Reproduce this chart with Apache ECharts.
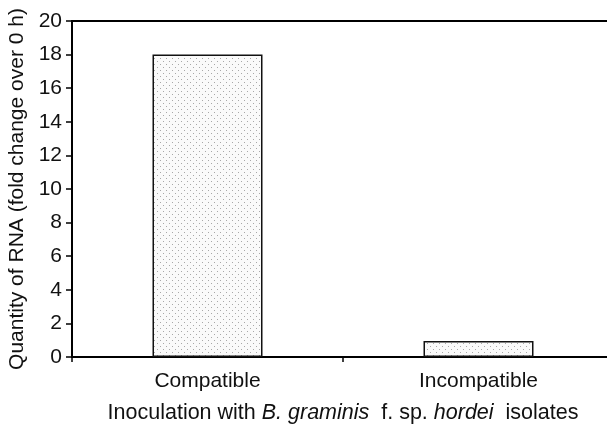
<!DOCTYPE html>
<html><head><meta charset="utf-8">
<script src="https://cdn.jsdelivr.net/npm/echarts@6/dist/echarts.min.js"></script>
<style>html,body{margin:0;padding:0;background:#fff}#c{width:607px;height:424px}</style>
</head><body><div id="c"></div>
<script>
var categories = ['Compatible', 'Incompatible'];
var values = [18.0, 0.95];
var yTicks = {min: 0, max: 20, interval: 2};

var pc = document.createElement('canvas');
pc.width = 6; pc.height = 6;
var g = pc.getContext('2d');
g.fillStyle = '#fafafa'; g.fillRect(0,0,6,6);
g.fillStyle = '#a8a8a8';
g.fillRect(1,1,1,1); g.fillRect(4,4,1,1);

var chart = echarts.init(document.getElementById('c'), null, {renderer:'canvas'});
var font = 'Liberation Sans, Arial, sans-serif';
chart.setOption({
  animation: false,
  textStyle: {fontFamily: font},
  grid: {left: 72, top: 21, bottom: 67, width: 542, containLabel: false, outerBoundsMode: 'none'},
  xAxis: [{
    type: 'category', data: categories, position: 'bottom',
    axisLine: {lineStyle: {color: '#000', width: 2}},
    axisTick: {show: true, length: 5, lineStyle: {color: '#000', width: 1.5}},
    axisLabel: {fontSize: 21, color: '#111', margin: 14, fontFamily: font},
    name: '{n|Inoculation with }{i|B. graminis}{n|  f. sp. }{i|hordei}{n|  isolates}',
    nameLocation: 'middle', nameGap: 45,
    nameTextStyle: {rich: {n: {fontSize: 21.5, color: '#111', fontFamily: font}, i: {fontSize: 21.5, color: '#111', fontStyle: 'italic', fontFamily: font}}}
  }, {
    type: 'category', data: categories, position: 'top',
    axisLine: {lineStyle: {color: '#000', width: 2}},
    axisTick: {show: false}, axisLabel: {show: false}
  }],
  yAxis: {
    type: 'value', min: yTicks.min, max: yTicks.max, interval: yTicks.interval,
    axisLine: {show: true, lineStyle: {color: '#000', width: 2}},
    axisTick: {show: true, length: 6, lineStyle: {color: '#000', width: 1.5}},
    axisLabel: {fontSize: 21, color: '#111', margin: 10, fontFamily: font},
    splitLine: {show: false},
    name: 'Quantity of RNA (fold change over 0 h)',
    nameLocation: 'middle', nameGap: 37,
    nameTextStyle: {fontSize: 21, color: '#111', fontFamily: font}
  },
  series: [{
    type: 'bar', data: values, barWidth: 110,
    itemStyle: {color: {image: pc, repeat: 'repeat'}, borderColor: '#111', borderWidth: 1.5}
  }]
});
</script></body></html>
